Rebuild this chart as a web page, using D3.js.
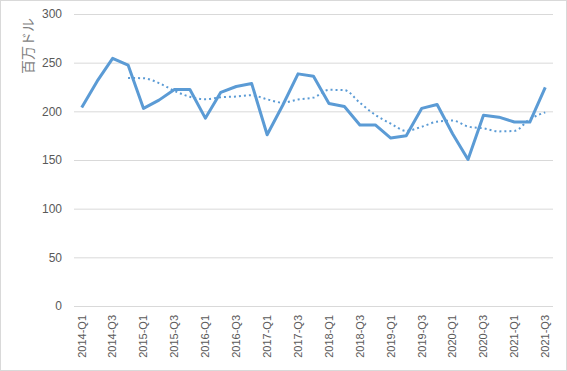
<!DOCTYPE html>
<html>
<head>
	<meta charset="utf-8">
	<title>Quarterly</title>
	<script src="https://d3js.org/d3.v7.min.js"></script>
	<style type="text/css">
		*
		{
			margin:0;
			padding:0;
		}
		body
		{
			background:#fff;
			font-family: "Liberation Sans", Arial, sans-serif;
		}
		#chart svg
		{
			display:block;
		}
	</style>
</head>
<body>
	<div id="chart"></div>
	<script>
		// quarters 2014-Q1 .. 2021-Q3
		const quarters = ["2014-Q1","2014-Q2","2014-Q3","2014-Q4","2015-Q1","2015-Q2","2015-Q3","2015-Q4",
			"2016-Q1","2016-Q2","2016-Q3","2016-Q4","2017-Q1","2017-Q2","2017-Q3","2017-Q4",
			"2018-Q1","2018-Q2","2018-Q3","2018-Q4","2019-Q1","2019-Q2","2019-Q3","2019-Q4",
			"2020-Q1","2020-Q2","2020-Q3","2020-Q4","2021-Q1","2021-Q2","2021-Q3"];
		const values = [204, 231, 254.5, 247.5, 203, 211.5, 222.5, 222.5,
			193, 219.5, 225.5, 228.5, 176, 206, 238.5, 236,
			208, 205, 186, 186, 172.5, 175, 203, 207,
			177, 150.5, 196, 194, 189, 189, 224.5];
		// moving average (4 quarters), starts at 2014-Q4
		const movingAvg = [null, null, null, 234.3, 234, 229, 221, 214.9,
			212.4, 214.4, 215.2, 216.5, 212.3, 209, 212.1, 214.1,
			222.1, 221.8, 208.8, 196.3, 187.4, 179.9, 184.1, 189.4,
			190.5, 184.4, 182.5, 179.4, 179.9, 192, 198.9];
		const yTicks = [0, 50, 100, 150, 200, 250, 300];
		const yTitle = "百万ドル";

		const width = 567;
		const height = 371;
		const plotLeft = 74, plotRight = 553, plotTop = 14, plotBottom = 306;

		const svg = d3.select("#chart").append("svg")
			.attr("width", width)
			.attr("height", height);

		svg.append("rect")
			.attr("x", 0.5).attr("y", 0.5)
			.attr("width", width - 1).attr("height", height - 1)
			.attr("fill", "#fff")
			.attr("stroke", "#d9d9d9");

		const xScale = d3.scaleBand().domain(quarters).range([plotLeft, plotRight]);
		const yScale = d3.scaleLinear().domain([0, 300]).range([plotBottom, plotTop]);
		const cx = q => xScale(q) + xScale.bandwidth() / 2;

		// gridlines + y labels
		const yAxis = d3.axisLeft(yScale).tickValues(yTicks).tickSize(-(plotRight - plotLeft)).tickPadding(12);
		const gy = svg.append("g")
			.attr("transform", "translate(" + plotLeft + ",0)")
			.call(yAxis);
		gy.select(".domain").remove();
		gy.selectAll("line").attr("stroke", "#d9d9d9").attr("stroke-width", 1);
		gy.selectAll("text")
			.attr("fill", "#595959")
			.style("font-size", "12px")
			.style("font-family", "\"Liberation Sans\", Arial, sans-serif");

		// x labels, every other quarter
		const xAxis = d3.axisBottom(xScale)
			.tickValues(quarters.filter((q, i) => i % 2 == 0))
			.tickSize(0).tickPadding(0);
		const gx = svg.append("g")
			.attr("transform", "translate(0," + plotBottom + ")")
			.call(xAxis);
		gx.select(".domain").remove();
		gx.selectAll("text")
			.attr("fill", "#595959")
			.attr("transform", "rotate(-90)")
			.attr("text-anchor", "end")
			.attr("dy", "0.35em")
			.attr("x", -9)
			.attr("y", 0)
			.style("font-size", "11px")
			.style("font-family", "\"Liberation Sans\", Arial, sans-serif");

		// y title
		svg.append("text")
			.text(yTitle)
			.attr("transform", "translate(33,46) rotate(-90)")
			.attr("text-anchor", "middle")
			.attr("fill", "#7f7f7f")
			.style("font-size", "14px")
			.style("font-family", "\"Noto Sans CJK JP\", sans-serif");

		const line = d3.line()
			.x((d, i) => cx(quarters[i]))
			.y(d => yScale(d));

		const maLine = d3.line()
			.defined(d => d != null)
			.curve(d3.curveMonotoneX)
			.x((d, i) => cx(quarters[i]))
			.y(d => yScale(d));

		svg.append("path")
			.datum(movingAvg)
			.attr("d", maLine)
			.attr("fill", "none")
			.attr("stroke", "#5b9bd5")
			.attr("stroke-width", 2)
			.attr("stroke-dasharray", "2,3");

		svg.append("path")
			.datum(values)
			.attr("d", line)
			.attr("fill", "none")
			.attr("stroke", "#5b9bd5")
			.attr("stroke-width", 3)
			.attr("stroke-linejoin", "round");
	</script>
</body>
</html>
